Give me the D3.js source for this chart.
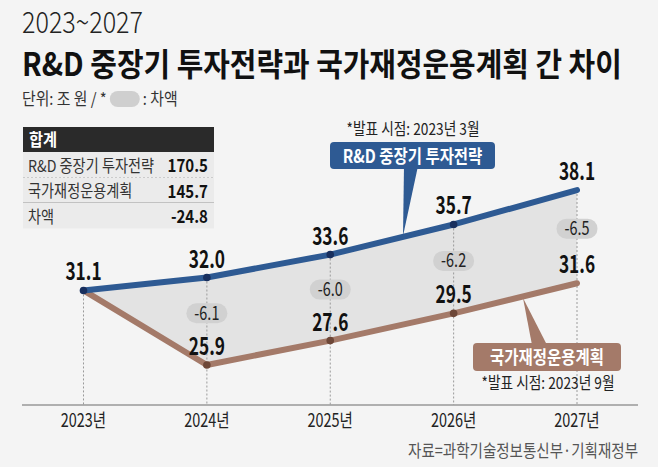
<!DOCTYPE html>
<html><head><meta charset="utf-8">
<script src="https://cdn.jsdelivr.net/npm/d3@7"></script>
<style>
html,body{margin:0;padding:0;background:#f4f4f4;}
svg{display:block;}
text{font-family:"Noto Sans CJK KR","Noto Sans",sans-serif;}
</style></head>
<body><svg id="c" width="658" height="467"></svg>
<script>
const years = ["2023년","2024년","2025년","2026년","2027년"];
const rndPlan = [31.1, 32.0, 33.6, 35.7, 38.1];
const fiscalPlan = [31.1, 25.9, 27.6, 29.5, 31.6];
const diffs = [null, "-6.1", "-6.0", "-6.2", "-6.5"];
const tableLabels = ["R&D 중장기 투자전략", "국가재정운용계획", "차액"];
const tableValues = ["170.5", "145.7", "-24.8"];
const rndName = "R&D 중장기 투자전략";
const fiscalName = "국가재정운용계획";
const rndNote = "*발표 시점: 2023년 3월";
const fiscalNote = "*발표 시점: 2023년 9월";

const svg = d3.select("#c");
svg.append("rect").attr("width",658).attr("height",467).attr("fill","#f4f4f4");

function txt(g, s, x, y, o){
  o = o||{};
  const t = g.append("text").text(s)
    .attr("font-size", o.size||15)
    .attr("font-weight", o.weight||400)
    .attr("fill", o.fill||"#222")
    .attr("text-anchor", o.anchor||"start");
  if(o.width){
    const w = t.node().getComputedTextLength();
    o.sx = o.width / w;
  }
  t.attr("transform", `translate(${x},${y}) scale(${o.sx||1},1)`);
  return t;
}

// Titles
txt(svg, "2023~2027", 22, 33, {size:29, weight:300, fill:"#222", width:121});
txt(svg, "R&D 중장기 투자전략과 국가재정운용계획 간 차이", 22, 76, {size:32, weight:700, fill:"#111", width:600});
const s1 = txt(svg, "단위: 조 원 / *", 22, 105, {size:16.5, weight:400, fill:"#333", sx:0.9});
const w1 = s1.node().getComputedTextLength()*0.9;
svg.append("rect").attr("x",22+w1+3).attr("y",91).attr("width",30).attr("height",16).attr("rx",8).attr("fill","#cfcfcf");
txt(svg, ": 차액", 22+w1+36, 105, {size:16.5, weight:400, fill:"#333", sx:0.9});

// Table
const tb = svg.append("g");
tb.append("rect").attr("x",23).attr("y",127).attr("width",191).attr("height",25).attr("fill","#2a2a2a");
txt(tb, "합계", 29, 146, {size:17, weight:700, fill:"#fff", sx:0.9});
tableLabels.forEach((l,i)=>{
  const y0 = 152 + i*25.5;
  tb.append("rect").attr("x",23).attr("y",y0).attr("width",191).attr("height",25.5).attr("fill","#ebebeb");
  txt(tb, l, 28, y0+19.5, {size:16.5, weight:400, fill:"#333", sx:0.86});
  txt(tb, tableValues[i], 208, y0+20, {size:17.5, weight:700, fill:"#111", anchor:"end", sx:0.86});
  if(i<2){
    tb.append("line").attr("x1",23).attr("x2",214).attr("y1",y0+25.5).attr("y2",y0+25.5)
      .attr("stroke", i===0?"#aaa":"#999").attr("stroke-width",1)
      .attr("stroke-dasharray", i===0?"2,2":null);
  }
});

// Scales
const x = d3.scalePoint().domain(years).range([83.5, 577]);
const y = d3.scaleLinear().domain([20, 40]).range([449.6, 162.8]);

// Axis
const axisY = 405;
svg.append("line").attr("x1",22).attr("x2",638).attr("y1",axisY).attr("y2",axisY).attr("stroke","#999").attr("stroke-width",1.5);
const xa = d3.axisBottom(x).tickSize(0).tickPadding(0);
const axg = svg.append("g").attr("transform",`translate(0,${axisY})`).call(xa);
axg.select(".domain").remove();
axg.selectAll("text").remove();
years.forEach(yr=>{
  txt(axg, yr, x(yr), 22, {size:18.5, weight:400, fill:"#222", anchor:"middle", sx:0.78});
});

// Area between
const pts = years.map((yr,i)=>({yr, a:rndPlan[i], b:fiscalPlan[i]}));
svg.append("path").datum(pts)
  .attr("d", d3.area().x(d=>x(d.yr)).y0(d=>y(d.b)).y1(d=>y(d.a)))
  .attr("fill","#e3e3e3");

// dashed verticals
pts.forEach(d=>{
  svg.append("line").attr("x1",x(d.yr)).attr("x2",x(d.yr)).attr("y1",y(d.a)).attr("y2",axisY)
    .attr("stroke","#9a9a9a").attr("stroke-width",1).attr("stroke-dasharray","2,2");
});

// Callouts (behind lines)
const blue = "#2e5a93", brown = "#a47a69";
svg.append("path").attr("d","M404,166 L418,166 L403,236 Z").attr("fill",blue);
svg.append("rect").attr("x",330).attr("y",142).attr("width",165).attr("height",27).attr("rx",4).attr("fill",blue);
txt(svg, rndName, 412.5, 162.5, {size:18, weight:700, fill:"#fff", anchor:"middle", sx:0.86});
txt(svg, rndNote, 413, 135, {size:16.5, weight:400, fill:"#222", anchor:"middle", sx:0.83});

svg.append("path").attr("d","M532,345 L547,345 L523,298 Z").attr("fill",brown);
svg.append("rect").attr("x",473).attr("y",343).attr("width",148).attr("height",28).attr("rx",4).attr("fill",brown);
txt(svg, fiscalName, 547, 364, {size:18, weight:700, fill:"#fff", anchor:"middle", sx:0.86});
txt(svg, fiscalNote, 548, 389, {size:16.5, weight:400, fill:"#222", anchor:"middle", sx:0.83});

// Lines
const line = d3.line().x(d=>x(d.yr)).y(d=>d.v);
svg.append("path").datum(pts.map(d=>({yr:d.yr, v:y(d.b)})))
  .attr("d", line).attr("fill","none").attr("stroke",brown).attr("stroke-width",6)
  .attr("stroke-linecap","round").attr("stroke-linejoin","round");
svg.append("path").datum(pts.map(d=>({yr:d.yr, v:y(d.a)})))
  .attr("d", line).attr("fill","none").attr("stroke",blue).attr("stroke-width",6)
  .attr("stroke-linecap","round").attr("stroke-linejoin","round");

// dots
pts.slice(0,4).forEach((d,i)=>{
  if(i>0) svg.append("circle").attr("cx",x(d.yr)).attr("cy",y(d.b)).attr("r",3.8).attr("fill","#6d4738");
  svg.append("circle").attr("cx",x(d.yr)).attr("cy",y(d.a)).attr("r",3.8).attr("fill","#182f5e");
});

// value labels
pts.forEach((d,i)=>{
  txt(svg, d3.format(".1f")(d.a), x(d.yr), y(d.a)-10, {size:24, weight:700, fill:"#111", anchor:"middle", sx:0.72});
  if(i>0) txt(svg, d3.format(".1f")(d.b), x(d.yr), y(d.b)-10, {size:24, weight:700, fill:"#111", anchor:"middle", sx:0.72});
});

// diff pills
pts.forEach((d,i)=>{
  if(!diffs[i]) return;
  const cy = (y(d.a)+y(d.b))/2 - 8;
  svg.append("rect").attr("x",x(d.yr)-20.5).attr("y",cy-10).attr("width",41).attr("height",20).attr("rx",10).attr("fill","#d1d1d1");
  txt(svg, diffs[i], x(d.yr), cy+6.5, {size:19, weight:400, fill:"#222", anchor:"middle", sx:0.76});
});

// source
txt(svg, "자료=과학기술정보통신부·기획재정부", 638, 457, {size:17.5, weight:400, fill:"#555", anchor:"end", sx:0.83});
</script></body></html>
